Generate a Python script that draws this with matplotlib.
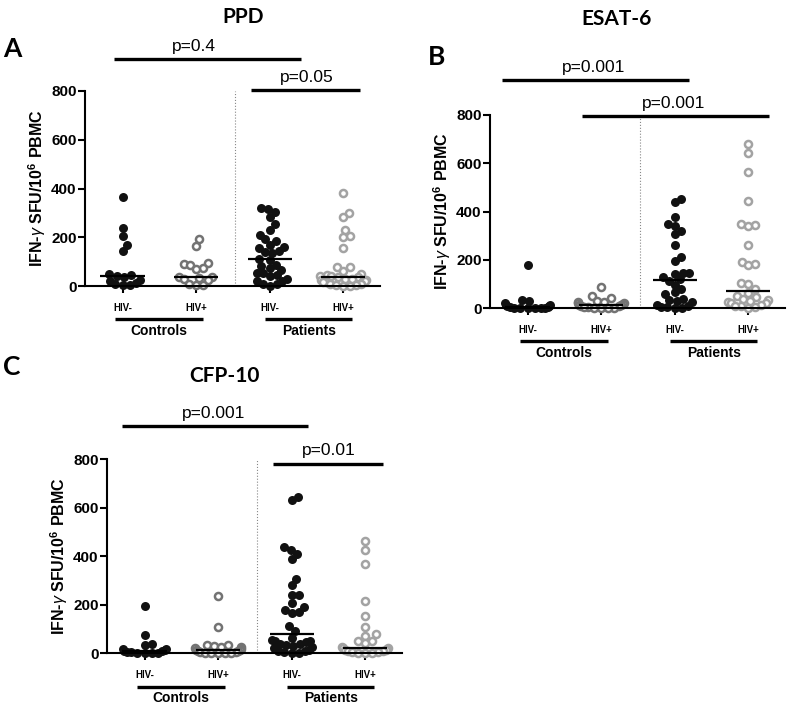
import numpy as np
import matplotlib
matplotlib.use("Agg")
import matplotlib.pyplot as plt

plt.rcParams['font.family'] = ['Liberation Sans', 'DejaVu Sans']
plt.rcParams['mathtext.fontset'] = 'custom'
plt.rcParams['mathtext.rm'] = 'Liberation Sans:bold'
plt.rcParams['mathtext.it'] = 'Liberation Sans:italic'
plt.rcParams['mathtext.bf'] = 'Liberation Sans:bold'

# ---- data (IFN-gamma SFU / 10^6 PBMC) ----
groups = ['HIV-', 'HIV+', 'HIV-', 'HIV+']
cohorts = ['Controls', 'Patients']
titles = ['PPD', 'ESAT-6', 'CFP-10']
letters = ['A', 'B', 'C']
pvals = [('p=0.4', 'p=0.05'), ('p=0.001', 'p=0.001'), ('p=0.001', 'p=0.01')]

ppd_ctrl_neg = [366, 240, 205, 170, 145, 50, 45, 40, 35, 25, 20, 12, 8, 5, 5]
ppd_ctrl_pos = [192, 164, 93, 89, 86, 75, 70, 36, 35, 32, 27, 25, 10, 4, 4]
ppd_pat_neg = [321, 316, 305, 284, 253, 230, 209, 193, 185, 168, 159, 155, 145,
               141, 137, 111, 108, 86, 82, 73, 66, 52, 52, 45, 40, 30, 20, 20,
               10, 8, 2]
ppd_pat_pos = [383, 301, 282, 230, 205, 200, 157, 79, 77, 62, 50, 45, 40, 40,
               35, 35, 30, 30, 25, 25, 20, 20, 15, 15, 10, 10, 5, 5, 0, 0]

esat_ctrl_neg = [180, 35, 30, 20, 15, 12, 10, 8, 5, 5, 3, 2, 0, 0, 0, 0]
esat_ctrl_pos = [90, 51, 41, 30, 28, 25, 22, 20, 18, 15, 12, 10, 8, 5, 5, 3,
                 0, 0, 0]
esat_pat_neg = [452, 438, 378, 347, 339, 321, 307, 263, 214, 197, 148, 148, 142,
                129, 120, 115, 97, 79, 66, 58, 40, 35, 30, 25, 15, 10, 5, 5, 3, 0]
esat_pat_pos = [681, 642, 564, 445, 350, 346, 339, 263, 193, 184, 180, 104, 101,
                79, 65, 50, 45, 40, 35, 30, 25, 20, 20, 15, 10, 10, 5, 0]

cfp_ctrl_neg = [195, 75, 38, 35, 16, 16, 12, 10, 8, 5, 5, 3, 0, 0, 0]
cfp_ctrl_pos = [236, 110, 35, 33, 30, 28, 25, 20, 18, 15, 12, 10, 8, 5, 5, 3,
                0, 0, 0, 0]
cfp_pat_neg = [643, 632, 437, 426, 408, 388, 306, 282, 240, 240, 209, 192, 178,
               172, 165, 114, 93, 65, 55, 50, 50, 45, 40, 40, 35, 30, 25, 20,
               15, 10, 8, 5, 2, 0]
cfp_pat_pos = [464, 426, 367, 217, 154, 110, 78, 73, 52, 52, 41, 25, 22, 20, 18,
               15, 12, 10, 8, 5, 5, 3, 0, 0]

panels = [
    [ppd_ctrl_neg, ppd_ctrl_pos, ppd_pat_neg, ppd_pat_pos],
    [esat_ctrl_neg, esat_ctrl_pos, esat_pat_neg, esat_pat_pos],
    [cfp_ctrl_neg, cfp_ctrl_pos, cfp_pat_neg, cfp_pat_pos],
]

# ---- layout (pixels of the 787x704 picture) ----
W, H = 787, 704
# left, y of zero line, width, height (px)
boxes = [(85, 286, 295, 195), (490, 308.3, 295, 193.3), (107, 653.3, 295, 194)]
# bracket: (x0, x1, y, text x, text y) in data units
brackets = [
    [(0.88, 3.42, 931, 1.97, 950), (2.74, 4.23, 804, 3.5, 824)],
    [(0.65, 3.19, 943, 1.90, 964), (1.74, 4.28, 794, 2.98, 816)],
    [(0.69, 3.22, 939, 1.94, 958), (2.75, 4.24, 782, 3.51, 804)],
]
title_pos = [(243, 17), (617, 19), (224, 376)]
letter_pos = [(12, 49), (437, 57), (12, 367)]

fill_cols = ['#111111', 'white', '#111111', 'white']
edge_cols = ['#111111', '#737373', '#111111', '#a3a3a3']
DIAM = 7.5    # collision distance between markers, px
MAXW = 24.0   # soft half-width of a swarm, px


def swarm(ax, xc, vals, d=DIAM, wmax=MAXW):
    vals = np.asarray(vals, float)
    pts = ax.transData.transform(np.column_stack([np.full(len(vals), xc), vals]))
    offs = np.zeros(len(vals))
    placed = []
    for i in np.argsort(vals, kind='stable'):
        py = pts[i, 1]
        cands = [0.0]
        for qx, qy in placed:
            dy = py - qy
            if abs(dy) < d:
                dx = np.sqrt(d * d - dy * dy)
                cands += [qx + dx, qx - dx]
        cands.sort(key=abs)
        for c in cands:
            if all((c - qx) ** 2 + (py - qy) ** 2 >= d * d - 1e-6 for qx, qy in placed):
                break
        placed.append((c, py))
        offs[i] = c
    # squeeze wide rows, like Prism does
    offs = wmax * np.tanh(offs / wmax)
    back = ax.transData.inverted().transform(
        np.column_stack([pts[:, 0] + offs, pts[:, 1]]))
    return back[:, 0], vals


fig = plt.figure(figsize=(W / 100, H / 100), dpi=100)

for k, data in enumerate(panels):
    l, y0, w, h = boxes[k]
    ax = fig.add_axes([l / W, (H - y0) / H, w / W, h / H])
    ax.set_xlim(0.49, 4.5)
    ax.set_ylim(0, 800)
    for s in ['top', 'right']:
        ax.spines[s].set_visible(False)
    ax.spines['left'].set_linewidth(1.5)
    ax.spines['bottom'].set_linewidth(1.5)
    ax.set_yticks([0, 200, 400, 600, 800])
    ax.tick_params(axis='y', length=5, width=1.5, pad=1, labelsize=11)
    ax.tick_params(axis='x', length=5, width=1.5, pad=7, labelsize=7)
    ax.set_xticks([1, 2, 3, 4])
    ax.set_xticklabels(groups)
    for lab in ax.get_xticklabels() + ax.get_yticklabels():
        lab.set_fontweight('bold')
    ax.set_ylabel(r'IFN-$\mathit{\gamma}$ SFU/10$^{6}$ PBMC',
                  fontsize=11.5, fontweight='bold', labelpad=2)
    ax.axvline(2.53, ymin=0, ymax=1, color='#888888', lw=0.8, ls=':')

    for g, vals in enumerate(data):
        xs, ys = swarm(ax, g + 1, vals)
        if fill_cols[g] == 'white':
            ax.scatter(xs, ys, s=26, facecolors='white', edgecolors=edge_cols[g],
                       linewidths=1.8, clip_on=False, zorder=2)
        else:
            ax.scatter(xs, ys, s=42, color=fill_cols[g], linewidths=0,
                       clip_on=False, zorder=2)
        med = np.median(vals)
        ax.plot([g + 1 - 0.3, g + 1 + 0.3], [med, med], color='black', lw=1.6,
                zorder=3, solid_capstyle='butt')

    # significance brackets
    for (bx0, bx1, by, tx, ty), txt in zip(brackets[k], pvals[k]):
        ax.plot([bx0, bx1], [by, by], color='black', lw=2.4, clip_on=False,
                solid_capstyle='butt')
        ax.text(tx, ty, txt, ha='center', va='bottom', fontsize=12.5)

    # cohort bars below the axis
    for c, (cx0, cx1) in enumerate([(0.9, 2.09), (2.94, 4.12)]):
        ax.plot([cx0, cx1], [-137, -137], color='black', lw=2.4, clip_on=False,
                solid_capstyle='butt')
        ax.text((cx0 + cx1) / 2, -157, cohorts[c], ha='center', va='top',
                fontsize=10, fontweight='bold')

    tx, ty = title_pos[k]
    fig.text(tx / W, 1 - ty / H, titles[k], ha='center', va='center',
             fontsize=15, fontweight='bold', family=['Lato', 'DejaVu Sans'])
    lx, ly = letter_pos[k]
    fig.text(lx / W, 1 - ly / H, letters[k], ha='center', va='center',
             fontsize=19, fontweight='bold', family=['Lato', 'DejaVu Sans'])

fig.savefig('out.png', dpi=100)
